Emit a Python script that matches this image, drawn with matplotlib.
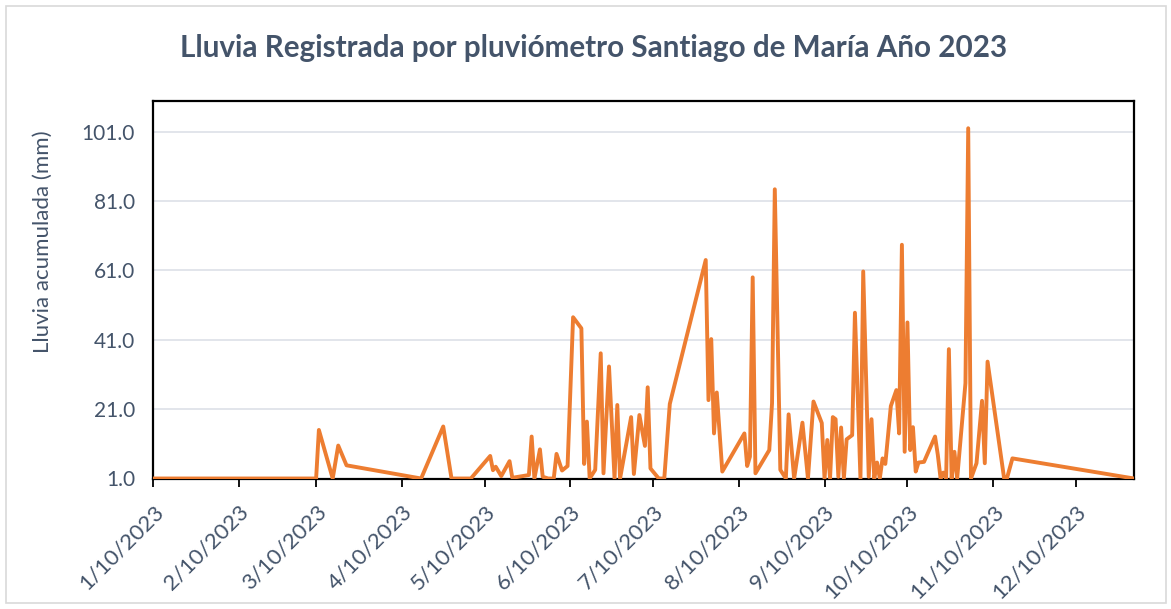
import matplotlib
matplotlib.use("Agg")
import matplotlib.pyplot as plt
import matplotlib.patches as mpatches
import matplotlib.transforms as mtransforms
import pandas as pd

# ---- data ----
dates = [
    "2023-01-10", "2023-03-10", "2023-03-11", "2023-03-16", "2023-03-18", "2023-03-21",
    "2023-04-17", "2023-04-25", "2023-04-28", "2023-05-05", "2023-05-12", "2023-05-13",
    "2023-05-14", "2023-05-16", "2023-05-19", "2023-05-20", "2023-05-26", "2023-05-27",
    "2023-05-28", "2023-05-30", "2023-05-31", "2023-06-02", "2023-06-04", "2023-06-05",
    "2023-06-07", "2023-06-09", "2023-06-11", "2023-06-14", "2023-06-15", "2023-06-16",
    "2023-06-17", "2023-06-19", "2023-06-21", "2023-06-22", "2023-06-24", "2023-06-26",
    "2023-06-27", "2023-06-28", "2023-07-02", "2023-07-03", "2023-07-05", "2023-07-07",
    "2023-07-08", "2023-07-09", "2023-07-12", "2023-07-14", "2023-07-16", "2023-07-29",
    "2023-07-30", "2023-07-31", "2023-08-01", "2023-08-02", "2023-08-04", "2023-08-12",
    "2023-08-13", "2023-08-14", "2023-08-15", "2023-08-16", "2023-08-21", "2023-08-22",
    "2023-08-23", "2023-08-25", "2023-08-27", "2023-08-28", "2023-08-30", "2023-09-02",
    "2023-09-04", "2023-09-06", "2023-09-09", "2023-09-10", "2023-09-11", "2023-09-12",
    "2023-09-13", "2023-09-14", "2023-09-15", "2023-09-16", "2023-09-17", "2023-09-18",
    "2023-09-20", "2023-09-21", "2023-09-23", "2023-09-24", "2023-09-26", "2023-09-27",
    "2023-09-28", "2023-09-29", "2023-09-30", "2023-10-01", "2023-10-02", "2023-10-04",
    "2023-10-06", "2023-10-07", "2023-10-08", "2023-10-09", "2023-10-10", "2023-10-11",
    "2023-10-12", "2023-10-13", "2023-10-14", "2023-10-16", "2023-10-20", "2023-10-21",
    "2023-10-22", "2023-10-23", "2023-10-24", "2023-10-25", "2023-10-26", "2023-10-27",
    "2023-10-28", "2023-10-31", "2023-11-01", "2023-11-02", "2023-11-04", "2023-11-06",
    "2023-11-07", "2023-11-08", "2023-11-14", "2023-11-15", "2023-11-17", "2023-12-31",
]
rain_mm = [
    1.0, 1.0, 15.0, 1.0, 10.5, 4.8,
    1.0, 16.0, 1.0, 1.0, 7.5, 3.4,
    4.4, 1.7, 6.0, 1.2, 2.0, 13.1,
    1.0, 9.4, 1.5, 1.0, 1.0, 8.1,
    3.3, 4.6, 47.5, 44.3, 5.2, 17.4,
    1.0, 3.5, 37.1, 2.5, 33.3, 1.0,
    22.2, 1.0, 18.7, 2.3, 19.3, 10.4,
    27.3, 3.9, 1.0, 1.0, 22.5, 64.0,
    23.6, 41.2, 14.0, 25.8, 3.0, 14.0,
    4.6, 7.3, 59.0, 2.5, 9.2, 22.7,
    84.4, 3.5, 1.0, 19.5, 1.0, 17.1,
    1.0, 23.2, 17.0, 1.0, 12.1, 1.0,
    18.7, 18.1, 1.5, 15.7, 1.0, 12.3,
    13.5, 48.8, 1.0, 60.7, 1.5, 18.1,
    1.0, 5.6, 1.0, 6.8, 5.2, 21.9,
    26.5, 14.0, 68.4, 8.7, 46.0, 9.2,
    15.8, 3.0, 5.6, 5.8, 13.1, 7.8,
    1.0, 2.7, 1.0, 38.3, 1.0, 8.7,
    1.0, 28.5, 102.0, 1.0, 5.4, 23.4,
    5.4, 34.7, 1.0, 1.0, 6.8, 1.0,
]
tick_dates = ["2023-01-10", "2023-02-10", "2023-03-10", "2023-04-10", "2023-05-10", "2023-06-10",
              "2023-07-10", "2023-08-10", "2023-09-10", "2023-10-10", "2023-11-10", "2023-12-10"]
tick_labels = ["1/10/2023", "2/10/2023", "3/10/2023", "4/10/2023", "5/10/2023", "6/10/2023",
               "7/10/2023", "8/10/2023", "9/10/2023", "10/10/2023", "11/10/2023", "12/10/2023"]
y_ticks = [1.0, 21.0, 41.0, 61.0, 81.0, 101.0]
title = "Lluvia Registrada por pluviómetro Santiago de María Año 2023"
y_label = "Lluvia acumulada (mm)"

# ---- style ----
text_color = "#44546A"
line_color = "#ED7D31"
grid_color = "#DFE3E9"
plt.rcParams["font.family"] = ["Lato", "DejaVu Sans"]

W, H = 1171, 609
fig = plt.figure(figsize=(W / 100, H / 100), dpi=100)
fig.patch.set_facecolor("white")

# chart-area border
fig.add_artist(mpatches.Rectangle((6 / W, 6 / H), (1160) / W, (597) / H,
                                  transform=fig.transFigure, fill=False,
                                  edgecolor="#D9D9D9", linewidth=1.2))

ax_w_px = 1134 - 153.1
ax = fig.add_axes([153.1 / W, 1 - 478.5 / H, ax_w_px / W, (478.5 - 100.5) / H])

x = pd.to_datetime(dates)
ax.plot(x, rain_mm, color=line_color, linewidth=2.8, solid_joinstyle="round",
        solid_capstyle="round", zorder=3)

ax.set_xlim(pd.Timestamp("2023-01-10"), pd.Timestamp("2023-12-31"))
ax.set_ylim(1.0, 110.0)

ax.set_yticks(y_ticks)
ax.set_yticklabels([f"{v:.1f}" for v in y_ticks])
ax.yaxis.grid(True, color=grid_color, linewidth=1.3, zorder=0)
ax.set_axisbelow(True)
ax.tick_params(axis="y", length=0, pad=13, labelsize=15, labelcolor=text_color)

ax.set_xticks(pd.to_datetime(tick_dates))
ax.set_xticklabels(tick_labels, rotation=45, ha="right", va="center",
                   rotation_mode="anchor")
ax.tick_params(axis="x", direction="out", length=6, width=1.3, color="black",
               pad=13, labelsize=16, labelcolor=text_color)
shift = mtransforms.ScaledTranslation(7 / 100, -4 / 100, fig.dpi_scale_trans)
for lab in ax.get_xticklabels():
    lab.set_transform(lab.get_transform() + shift)

for s in ax.spines.values():
    s.set_color("black")
    s.set_linewidth(1.6)

ax.set_ylabel(y_label, fontsize=16, color=text_color)
ax.yaxis.set_label_coords(-100 / ax_w_px, (478.5 - 242) / 378.0)

fig.text(594 / W, 1 - 48 / H, title, ha="center", va="center", fontsize=21.3,
         fontweight="bold", color=text_color)

fig.savefig("out.png", dpi=100)
